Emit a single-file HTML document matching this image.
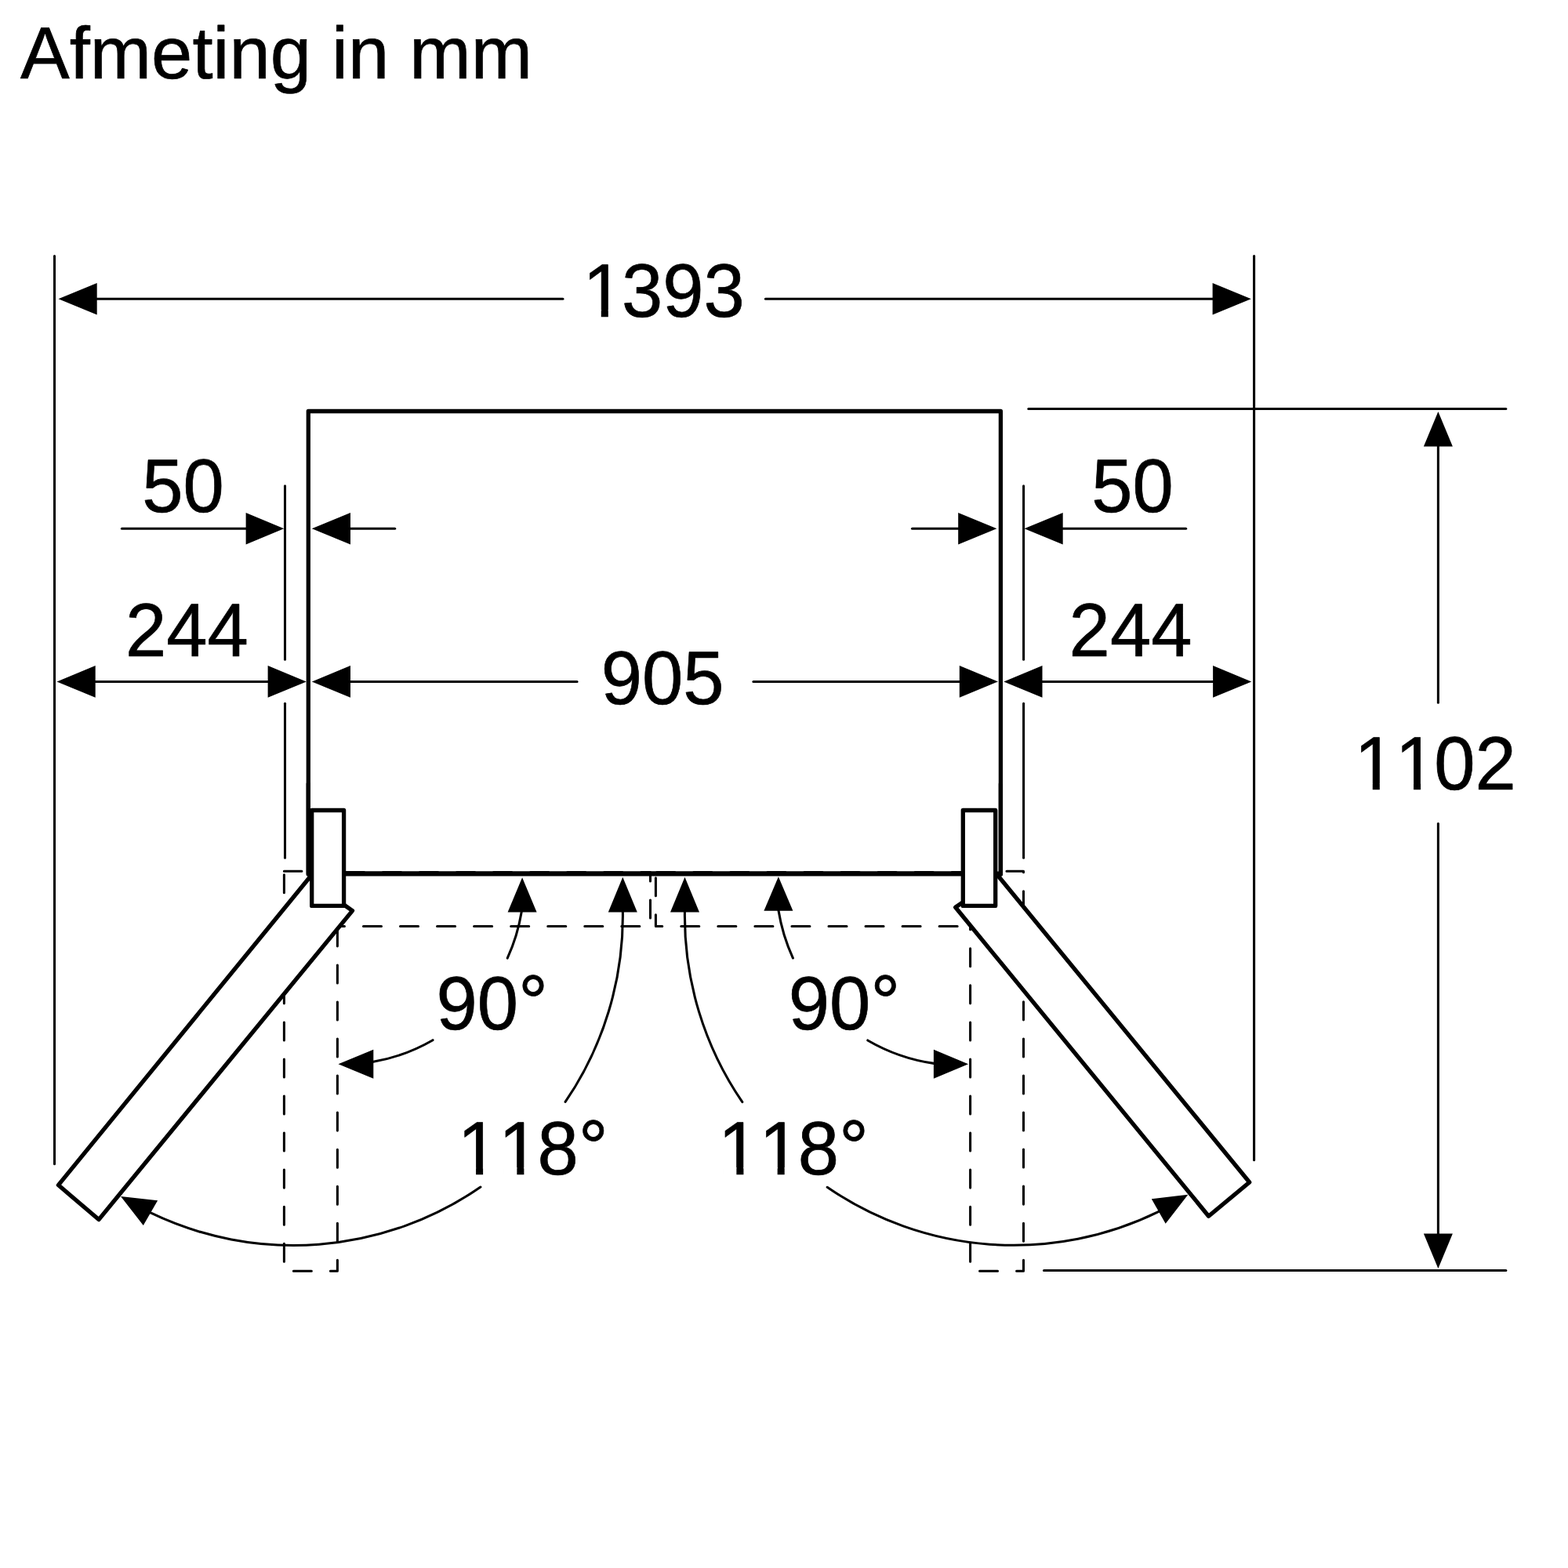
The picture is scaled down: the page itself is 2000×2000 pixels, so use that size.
<!DOCTYPE html>
<html lang="nl"><head><meta charset="utf-8"><title>Afmeting in mm</title>
<style>
html,body{margin:0;padding:0;background:#fff;}
body{width:2000px;height:2000px;overflow:hidden;}
svg{display:block;}
svg text{font-family:"Liberation Sans",sans-serif;fill:#000;stroke:#000;stroke-width:0.7px;stroke-linejoin:round;font-kerning:none;font-variant-ligatures:none;text-rendering:geometricPrecision;}
svg line,svg path{stroke:#000;fill:none;stroke-linecap:round;stroke-linejoin:round;}
svg .ah{fill:#000;stroke:none;}
svg .m{fill:#fff;stroke:none;}
</style></head><body>
<svg width="2000" height="2000" viewBox="0 0 2000 2000">
<rect x="0" y="0" width="2000" height="2000" fill="#fff"/>
<path d="M362.4,1111.2 V1621.3 H430.4 V1111.2 H362.4" stroke-width="3.05" stroke-dasharray="23 24.05" stroke-dashoffset="-4.5"/>
<path d="M1237.6,1111.2 V1621.3 H1305.5 V1111.2 H1237.6" stroke-width="3.05" stroke-dasharray="23 24.05" stroke-dashoffset="-4.5"/>
<path d="M416.45,1181.4 H829.5 V1112.6 H400" stroke-width="3.05" stroke-dasharray="23 24.05" stroke-dashoffset="0"/>
<path d="M836.4,1119.7 V1181.4 H1236" stroke-width="3.05" stroke-dasharray="23 24.05" stroke-dashoffset="0"/>
<path d="M837.8,1112.6 H1236" stroke-width="3.05" stroke-dasharray="23 24.05" stroke-dashoffset="0"/>
<line x1="69.5" y1="326.525" x2="69.5" y2="1484.675" stroke-width="3.05" />
<line x1="1599.6" y1="326.525" x2="1599.6" y2="1479.675" stroke-width="3.05" />
<line x1="363.5" y1="619.8249999999999" x2="363.5" y2="841.1750000000001" stroke-width="3.05" />
<line x1="363.5" y1="897.3249999999999" x2="363.5" y2="1094.175" stroke-width="3.05" />
<line x1="1305.6" y1="619.8249999999999" x2="1305.6" y2="841.1750000000001" stroke-width="3.05" />
<line x1="1305.6" y1="897.3249999999999" x2="1305.6" y2="1094.175" stroke-width="3.05" />
<line x1="1311.825" y1="521.5" x2="1920.875" y2="521.5" stroke-width="3.05" />
<line x1="1331.525" y1="1620.4" x2="1920.875" y2="1620.4" stroke-width="3.05" />
<line x1="1834.4" y1="560" x2="1834.4" y2="896.275" stroke-width="3.05" />
<line x1="1834.4" y1="1050.525" x2="1834.4" y2="1580" stroke-width="3.05" />
<line x1="110" y1="381.3" x2="717.975" y2="381.3" stroke-width="3.05" />
<line x1="976.425" y1="381.3" x2="1560" y2="381.3" stroke-width="3.05" />
<polygon class="ah" points="74.50,381.30 123.70,361.00 123.70,401.60"/>
<polygon class="ah" points="1595.80,381.30 1546.60,401.60 1546.60,361.00"/>
<line x1="155.425" y1="674.3" x2="320" y2="674.3" stroke-width="3.05" />
<polygon class="ah" points="362.20,674.30 313.60,694.60 313.60,654.00"/>
<polygon class="ah" points="397.80,674.30 447.00,654.00 447.00,694.60"/>
<line x1="440" y1="674.3" x2="503.675" y2="674.3" stroke-width="3.05" />
<line x1="1163.525" y1="674.3" x2="1230" y2="674.3" stroke-width="3.05" />
<polygon class="ah" points="1271.40,674.30 1222.20,694.60 1222.20,654.00"/>
<polygon class="ah" points="1306.50,674.30 1355.70,654.00 1355.70,694.60"/>
<line x1="1350" y1="674.3" x2="1512.675" y2="674.3" stroke-width="3.05" />
<polygon class="ah" points="72.50,869.40 121.70,849.10 121.70,889.70"/>
<line x1="110" y1="869.4" x2="350" y2="869.4" stroke-width="3.05" />
<polygon class="ah" points="390.80,869.40 341.60,889.70 341.60,849.10"/>
<polygon class="ah" points="397.80,869.40 447.00,849.10 447.00,889.70"/>
<line x1="440" y1="869.4" x2="736.075" y2="869.4" stroke-width="3.05" />
<line x1="960.925" y1="869.4" x2="1230" y2="869.4" stroke-width="3.05" />
<polygon class="ah" points="1273.00,869.40 1223.80,889.70 1223.80,849.10"/>
<polygon class="ah" points="1280.30,869.40 1329.50,849.10 1329.50,889.70"/>
<line x1="1320" y1="869.4" x2="1555" y2="869.4" stroke-width="3.05" />
<polygon class="ah" points="1596.30,869.40 1547.10,889.70 1547.10,849.10"/>
<polygon class="ah" points="1834.40,525.00 1852.90,569.60 1815.90,569.60"/>
<polygon class="ah" points="1834.40,1618.00 1815.90,1573.40 1852.90,1573.40"/>
<rect x="393.3" y="524.5" width="883.1000000000001" height="589.7" fill="none" stroke="#000" stroke-width="5.3" stroke-linejoin="round"/>
<line x1="440" y1="1114.5" x2="1227" y2="1114.5" stroke-width="6.0" stroke-linecap="butt"/>
<path d="M395.20,1118.70 L74.40,1511.60 L126.00,1555.60 L449.50,1161.60 L438.60,1154.00" style="fill:#fff" stroke-width="5.3"/>
<path d="M1274.00,1118.20 L1593.70,1508.00 L1541.60,1551.20 L1218.70,1157.30 L1228.30,1150.80" style="fill:#fff" stroke-width="5.3"/>
<rect x="397.7" y="1033.5" width="40.900000000000034" height="121.90000000000009" fill="#fff" stroke="#000" stroke-width="5.3" stroke-linejoin="round"/>
<rect x="1228.3" y="1033.5" width="41.40000000000009" height="121.90000000000009" fill="#fff" stroke="#000" stroke-width="5.3" stroke-linejoin="round"/>
<line x1="393.3" y1="1000" x2="393.3" y2="1115.2" stroke-width="5.3" />
<line x1="1276.4" y1="1000" x2="1276.4" y2="1115.2" stroke-width="5.3" />
<path d="M794.37,1163.30 A420.20,420.20 0 0 1 721.08,1405.45" stroke-width="3.05" />
<path d="M612.95,1514.08 A420.20,420.20 0 0 1 192.10,1546.99" stroke-width="3.05" />
<path d="M873.43,1163.30 A419.80,419.80 0 0 0 946.84,1405.71" stroke-width="3.05" />
<path d="M1055.13,1514.26 A419.80,419.80 0 0 0 1478.01,1545.43" stroke-width="3.05" />
<path d="M665.20,1163.15 A232.60,232.60 0 0 1 647.22,1222.05" stroke-width="3.05" />
<path d="M552.04,1326.72 A232.60,232.60 0 0 1 476.13,1354.36" stroke-width="3.05" />
<path d="M992.93,1160.99 A234.80,234.80 0 0 0 1011.44,1222.02" stroke-width="3.05" />
<path d="M1106.73,1326.95 A234.80,234.80 0 0 0 1191.08,1356.37" stroke-width="3.05" />
<polygon class="ah" points="794.30,1118.70 812.80,1163.50 775.80,1163.50"/>
<polygon class="ah" points="873.50,1118.70 892.00,1163.50 855.00,1163.50"/>
<polygon class="ah" points="666.10,1119.30 684.60,1163.40 647.60,1163.40"/>
<polygon class="ah" points="992.90,1118.20 1011.40,1161.70 974.40,1161.70"/>
<polygon class="ah" points="431.50,1357.30 476.30,1338.80 476.30,1375.80"/>
<polygon class="ah" points="1235.10,1357.30 1190.90,1375.80 1190.90,1338.80"/>
<polygon class="ah" points="154.00,1526.10 201.10,1531.30 182.80,1563.00"/>
<polygon class="ah" points="1515.40,1523.70 1468.80,1529.20 1486.70,1560.80"/>
<text transform="translate(26,100.4) scale(1,1.0)" font-size="94">Afmeting in mm</text>
<text transform="translate(740.7,403.5) scale(1,1.025)" font-size="94" x="2.80 52.28 104.56 156.83">1393</text>
<rect class="m" x="749.46" y="395" width="17.32" height="10"/>
<rect class="m" x="775.81" y="395" width="16.58" height="10"/>
<text transform="translate(181.3,652.9) scale(1,1.025)" font-size="94">50</text>
<text transform="translate(1392.3,652.9) scale(1,1.025)" font-size="94">50</text>
<text transform="translate(160,836.6) scale(1,1.025)" font-size="94">244</text>
<text transform="translate(1363.6,836.6) scale(1,1.025)" font-size="94">244</text>
<text transform="translate(766.8,897.9) scale(1,1.025)" font-size="94">905</text>
<text transform="translate(1724.7,1007) scale(1,1.025)" font-size="94" x="2.80 55.08 104.56 156.83">1102</text>
<rect class="m" x="1733.46" y="999" width="17.32" height="10"/>
<rect class="m" x="1759.81" y="999" width="16.58" height="10"/>
<rect class="m" x="1785.74" y="999" width="17.32" height="10"/>
<rect class="m" x="1812.08" y="999" width="16.58" height="10"/>
<text transform="translate(556.5,1313.3) scale(1,1.025)" font-size="94" x="0.00 52.28 104.76" dy="0 0 -1.8">90°</text>
<text transform="translate(1005.8,1312.6) scale(1,1.025)" font-size="94" x="0.00 52.28 104.76" dy="0 0 -1.8">90°</text>
<text transform="translate(581,1497.5) scale(1,1.025)" font-size="94" x="2.80 55.08 104.56 157.03" dy="0 0 0 -1.8">118°</text>
<rect class="m" x="589.76" y="1489" width="17.32" height="10"/>
<rect class="m" x="616.11" y="1489" width="16.58" height="10"/>
<rect class="m" x="642.04" y="1489" width="17.32" height="10"/>
<rect class="m" x="668.38" y="1489" width="16.58" height="10"/>
<text transform="translate(913.3,1497.5) scale(1,1.025)" font-size="94" x="2.80 55.08 104.56 157.03" dy="0 0 0 -1.8">118°</text>
<rect class="m" x="922.06" y="1489" width="17.32" height="10"/>
<rect class="m" x="948.41" y="1489" width="16.58" height="10"/>
<rect class="m" x="974.34" y="1489" width="17.32" height="10"/>
<rect class="m" x="1000.68" y="1489" width="16.58" height="10"/>
</svg>
</body></html>
